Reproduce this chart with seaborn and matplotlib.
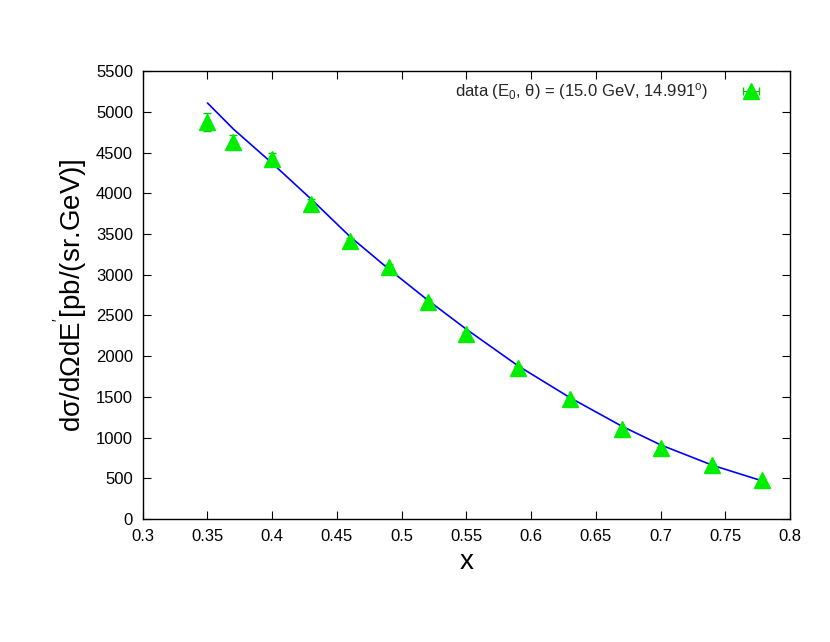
import numpy as np
import matplotlib
matplotlib.use('Agg')
import matplotlib.pyplot as plt
import seaborn as sns

# data
x_data = [0.35, 0.37, 0.40, 0.43, 0.46, 0.49, 0.52, 0.55, 0.59, 0.63, 0.67, 0.70, 0.74, 0.778]
y_data = [4880, 4630, 4420, 3870, 3410, 3090, 2670, 2270, 1850, 1480, 1100, 870, 660, 480]
y_err = [110, 90, 70, 55, 45, 40, 35, 30, 25, 20, 18, 15, 12, 10]

x_fit = [0.35, 0.37, 0.40, 0.43, 0.46, 0.49, 0.52, 0.55, 0.59, 0.63, 0.67, 0.70, 0.74, 0.778]
y_fit = [5110, 4790, 4370, 3930, 3470, 3070, 2690, 2330, 1880, 1490, 1140, 910, 660, 470]

sns.set_style('ticks')
plt.rcParams['font.family'] = ['Liberation Sans', 'DejaVu Sans']
plt.rcParams['mathtext.default'] = 'regular'

fig = plt.figure(figsize=(8.3, 6.42), dpi=100)
ax = fig.add_axes([0.172, 0.1916, 0.78, 0.6974])

sns.lineplot(x=x_fit, y=y_fit, ax=ax, color='blue', linewidth=1.2, sort=True)
ax.errorbar(x_data, y_data, yerr=y_err, fmt='^', color='#00ee00', ecolor='#00cc00',
            markersize=12, capsize=3, elinewidth=0.8)
# legend proxy with a horizontal error bar, as in the reference key
ax.errorbar([np.nan], [np.nan], xerr=[1], fmt='^', color='#00ee00', ecolor='#00cc00',
            markersize=12, capsize=3, elinewidth=0.8,
            label=r'data (E$_0$, $\theta$) = (15.0 GeV, 14.991$^{o}$)')

ax.set_xlim(0.3, 0.8)
ax.set_ylim(0, 5500)
ax.set_xticks(np.arange(0.3, 0.81, 0.05))
ax.set_xticklabels(['0.3', '0.35', '0.4', '0.45', '0.5', '0.55', '0.6', '0.65', '0.7', '0.75', '0.8'])
ax.set_yticks(np.arange(0, 5501, 500))
ax.tick_params(direction='in', top=True, right=True, labelsize=12, length=6,
               colors='black', pad=7)
ax.set_xlabel('x', fontsize=20, color='black')
ax.set_ylabel(r"d$\sigma$/d$\Omega$dE$^{'}$[pb/(sr.GeV)]", fontsize=20, color='black')
for s in ax.spines.values():
    s.set_linewidth(1)
    s.set_color('black')

leg = ax.legend(loc='upper right', frameon=False, fontsize=12, markerfirst=False,
                handlelength=3.5, borderaxespad=0.2)

fig.savefig('out.png', dpi=100)
